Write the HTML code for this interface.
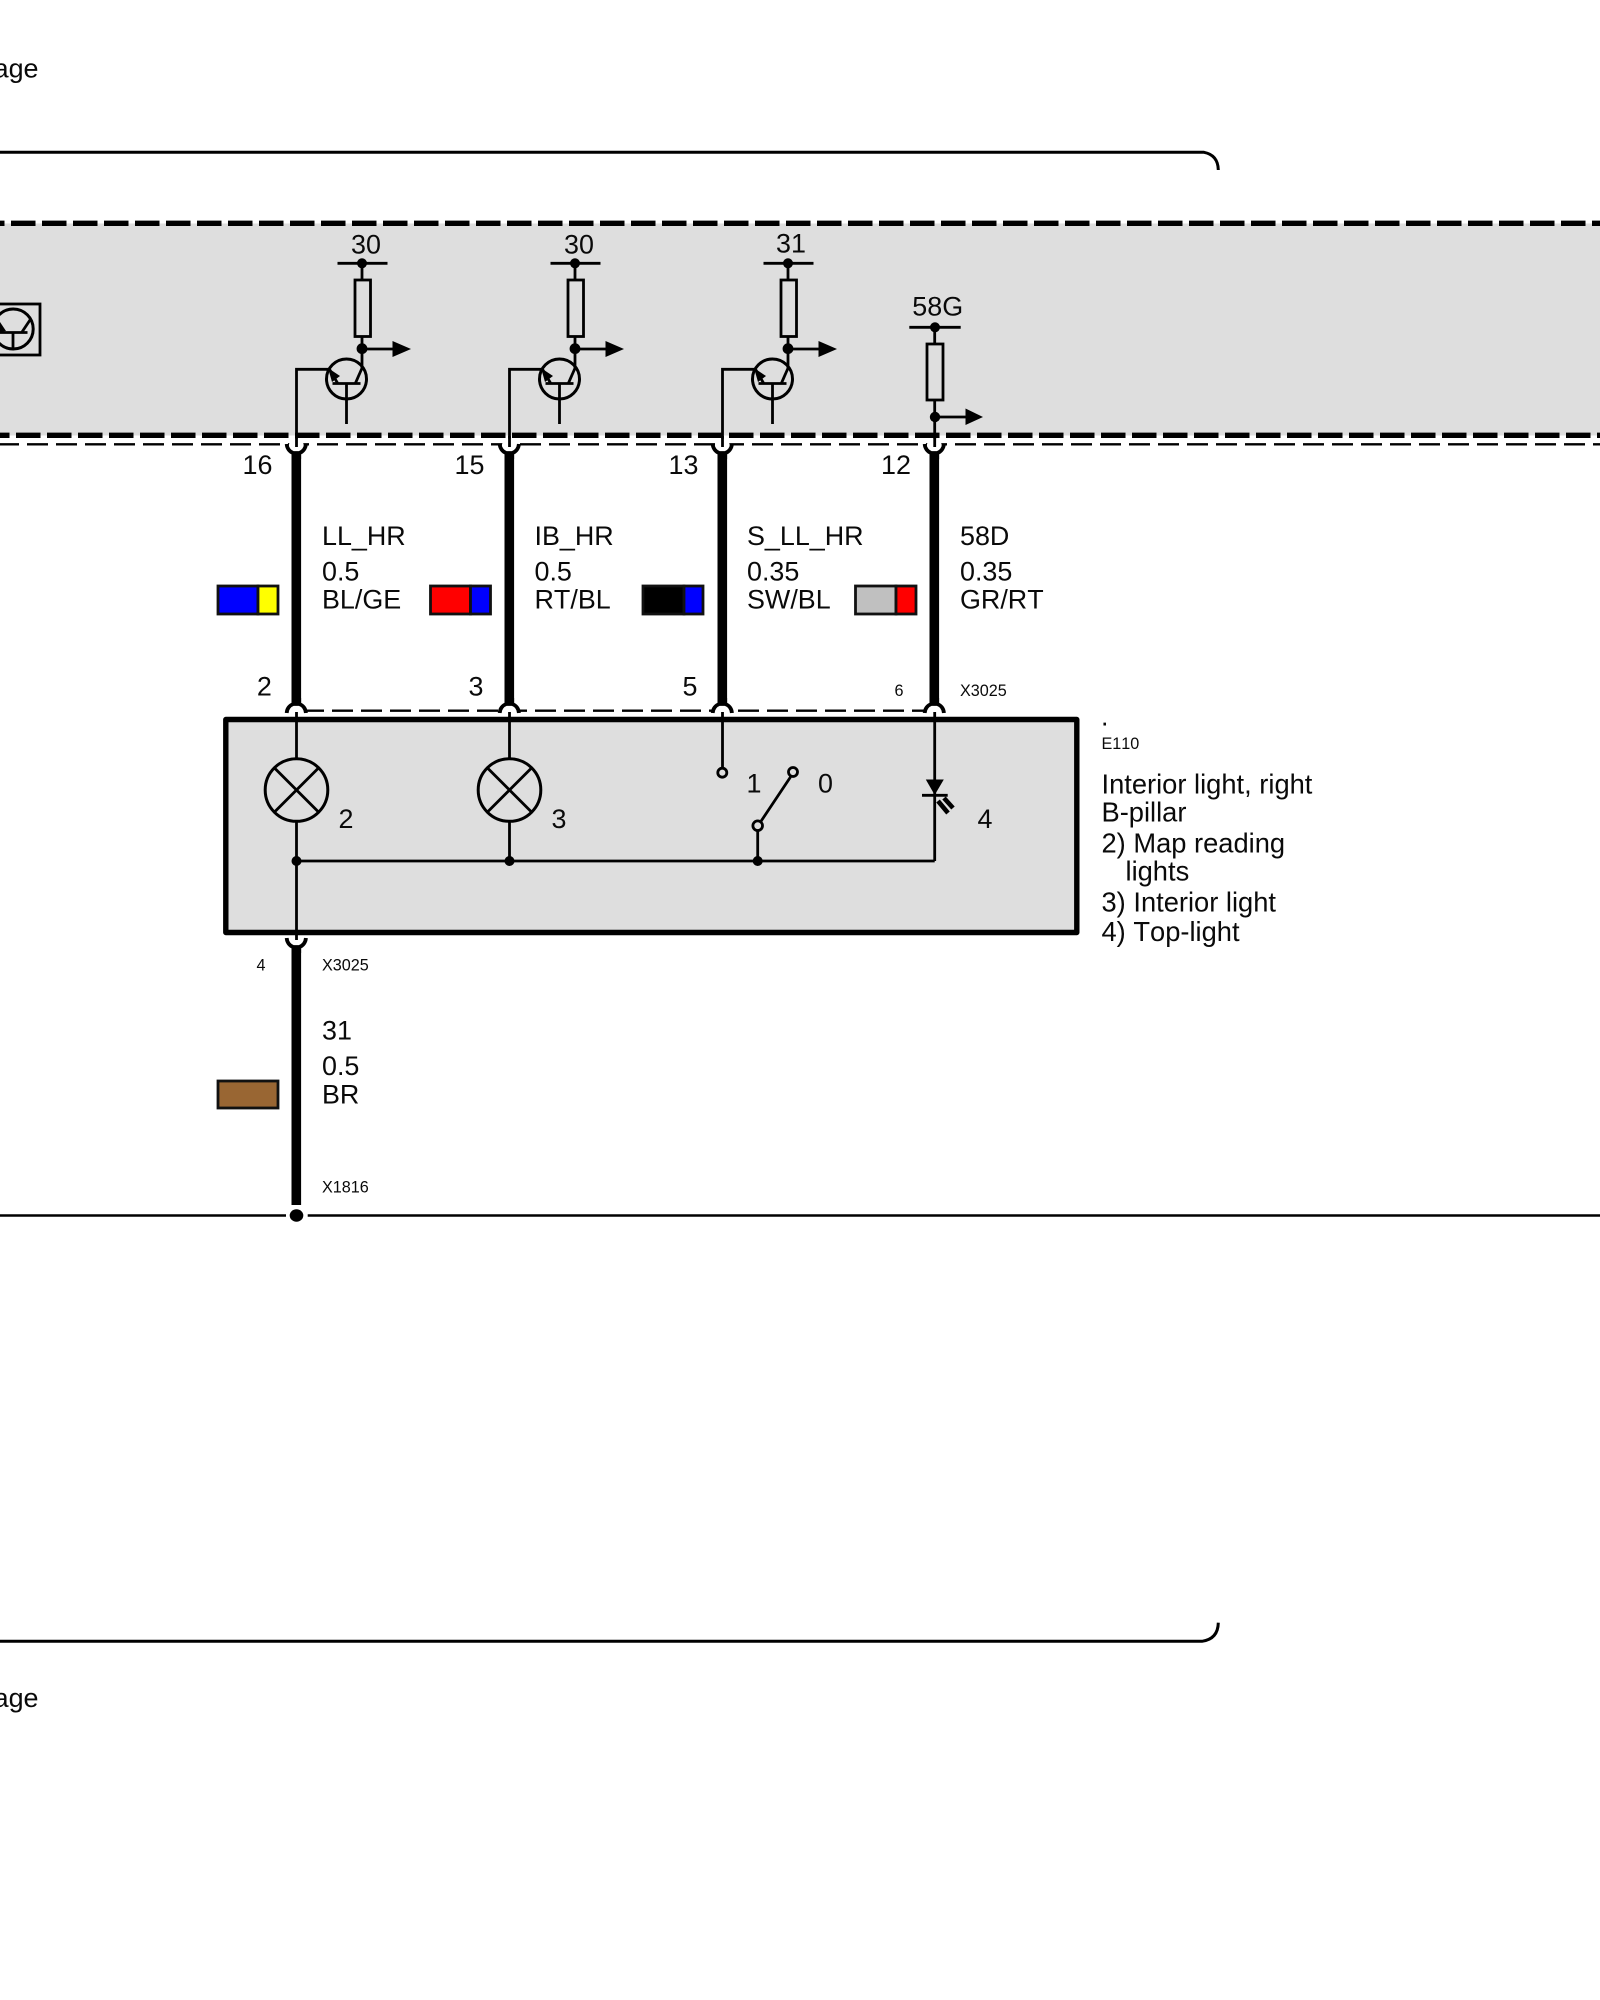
<!DOCTYPE html>
<html><head><meta charset="utf-8"><style>
html,body{margin:0;padding:0;background:#fff;width:1600px;height:2000px;overflow:hidden}
svg{display:block}
text{font-family:"Liberation Sans",sans-serif;font-size:26.9px;fill:#0a0a0a;font-kerning:none}
.s{font-size:16.2px}
.d{font-size:27.3px}
.m{text-anchor:middle}
.t{fill:none;stroke:#000;stroke-width:2.8}
.f{fill:#000;stroke:none}
.sw{stroke:#111;stroke-width:2.8}
</style></head><body>
<svg width="1600" height="2000" viewBox="0 0 1600 2000" xmlns="http://www.w3.org/2000/svg">
<defs>
<g id="tr">
 <line class="t" x1="337.5" y1="263.3" x2="387.5" y2="263.3"/>
 <circle class="f" cx="362" cy="263.3" r="5"/>
 <line class="t" x1="362" y1="263" x2="362" y2="280"/>
 <rect class="t" x="355" y="280" width="15.5" height="56.5"/>
 <line class="t" x1="362" y1="336" x2="362" y2="368"/>
 <circle class="f" cx="362" cy="348.7" r="5.4"/>
 <line class="t" x1="362" y1="349" x2="393" y2="349"/>
 <polygon class="f" points="392.5,341 392.5,357 411,349"/>
 <circle class="t" cx="346.5" cy="379" r="20" style="stroke-width:3"/>
 <line class="t" x1="362.5" y1="367" x2="355.5" y2="383"/>
 <line class="t" x1="332.5" y1="383.5" x2="360.5" y2="383.5"/>
 <line class="t" x1="346.5" y1="383.5" x2="346.5" y2="424"/>
 <polyline class="t" points="296.5,444 296.5,369.3 329.5,369.3 337.5,383"/>
 <polygon class="f" points="328,368 340,376 332,382"/>
</g>
<g id="ft">
 <circle cx="0" cy="2" r="7.5" fill="#fff"/>
 <path d="M-9.6,0 A9.6,10 0 0 0 -3,9 L3,9 A9.6,10 0 0 0 9.6,0" fill="none" stroke="#000" stroke-width="3.8"/>
 <rect class="f" x="-4.8" y="8" width="9.6" height="7"/>
</g>
<g id="ftb">
 <path d="M-9.6,0 A9.6,10 0 0 0 -3,9 L3,9 A9.6,10 0 0 0 9.6,0" fill="none" stroke="#000" stroke-width="3.8"/>
 <rect class="f" x="-4.8" y="8" width="9.6" height="7"/>
</g>
<g id="fb">
 <circle cx="0" cy="2" r="8" fill="#fff"/>
 <path d="M-9.6,2 A9.6,10 0 0 1 -3,-7 L3,-7 A9.6,10 0 0 1 9.6,2" fill="none" stroke="#000" stroke-width="3.8"/>
 <rect class="f" x="-4.8" y="-13" width="9.6" height="6"/>
</g>
<g id="lamp">
 <circle class="t" cx="0" cy="0" r="31.3" style="stroke-width:3"/>
 <line class="t" x1="-21.5" y1="-21.5" x2="21.5" y2="21.5"/>
 <line class="t" x1="21.5" y1="-21.5" x2="-21.5" y2="21.5"/>
</g>
</defs>

<text x="38.5" y="77.5" text-anchor="end">page</text>
<text x="38.5" y="1707" text-anchor="end">page</text>
<path d="M0,152.3 H1204 Q1218,155 1218.3,170" fill="none" stroke="#000" stroke-width="3"/>
<path d="M0,1641.3 H1202 Q1218,1639 1218.3,1622.7" fill="none" stroke="#000" stroke-width="3"/>

<rect x="0" y="223.5" width="1600" height="212" fill="#dedede"/>
<line x1="0" y1="223.3" x2="1600" y2="223.3" stroke="#000" stroke-width="5.4" stroke-dasharray="24.5 6.5" stroke-dashoffset="20"/>
<line x1="0" y1="435.3" x2="1600" y2="435.3" stroke="#000" stroke-width="5.4" stroke-dasharray="24.5 6.5" stroke-dashoffset="15"/>
<line x1="0" y1="444.3" x2="1600" y2="444.3" stroke="#000" stroke-width="2.4" stroke-dasharray="21 8" stroke-dashoffset="2"/>
<line x1="296" y1="710.7" x2="934" y2="710.7" stroke="#000" stroke-width="2.4" stroke-dasharray="21 8" stroke-dashoffset="-7"/>

<!-- left transistor box -->
<rect class="t" x="-10" y="304" width="50" height="51"/>
<circle class="t" cx="13.2" cy="329" r="20" style="stroke-width:3"/>
<line class="t" x1="-6" y1="332.5" x2="27.5" y2="332.5"/>
<line class="t" x1="13" y1="332.5" x2="13" y2="350"/>
<line class="t" x1="22" y1="332" x2="30" y2="320"/>
<polygon class="f" points="0,322 6,331 0,332"/>

<use href="#tr"/>
<use href="#tr" x="213"/>
<use href="#tr" x="426"/>

<text class="m" x="366" y="253.5">30</text>
<text class="m" x="579" y="253.5">30</text>
<text class="m" x="791" y="252.5">31</text>
<text class="m" x="937.7" y="315.7">58G</text>

<!-- 58G resistor -->
<line class="t" x1="909.3" y1="327.3" x2="960.7" y2="327.3"/>
<circle class="f" cx="935" cy="327.3" r="5"/>
<line class="t" x1="934.7" y1="327" x2="934.7" y2="344"/>
<rect class="t" x="927" y="344" width="16" height="56"/>
<line class="t" x1="934.7" y1="400" x2="934.7" y2="446"/>
<circle class="f" cx="935" cy="417" r="5.2"/>
<line class="t" x1="935" y1="417" x2="966" y2="417"/>
<polygon class="f" points="965.5,408.5 965.5,425 983,417"/>

<!-- thick wires -->
<rect class="f" x="291.5" y="452" width="9.6" height="252"/>
<rect class="f" x="504.5" y="452" width="9.6" height="252"/>
<rect class="f" x="717.5" y="452" width="9.6" height="252"/>
<rect class="f" x="929.5" y="452" width="9.6" height="252"/>
<use href="#ft" x="296.3" y="444"/><use href="#ft" x="509.3" y="444"/><use href="#ft" x="722.3" y="444"/><use href="#ft" x="934.3" y="444"/>
<use href="#fb" x="296.3" y="711"/><use href="#fb" x="509.3" y="711"/><use href="#fb" x="722.3" y="711"/><use href="#fb" x="934.3" y="711"/>
<line class="t" x1="296.5" y1="436" x2="296.5" y2="447"/>
<line class="t" x1="509.5" y1="436" x2="509.5" y2="447"/>
<line class="t" x1="722.5" y1="436" x2="722.5" y2="447"/>
<line class="t" x1="934.7" y1="436" x2="934.7" y2="447"/>

<!-- numbers -->
<text class="m" x="257.5" y="474">16</text>
<text class="m" x="469.5" y="474">15</text>
<text class="m" x="683.5" y="474">13</text>
<text class="m" x="896" y="474">12</text>

<!-- wire labels -->
<text x="322" y="545">LL_HR</text><text x="322" y="580.7">0.5</text><text x="322" y="608.3">BL/GE</text>
<text x="534.5" y="545">IB_HR</text><text x="534.5" y="580.7">0.5</text><text x="534.5" y="608.3">RT/BL</text>
<text x="747" y="545">S_LL_HR</text><text x="747" y="580.7">0.35</text><text x="747" y="608.3">SW/BL</text>
<text x="960" y="545">58D</text><text x="960" y="580.7">0.35</text><text x="960" y="608.3">GR/RT</text>

<!-- swatches -->
<rect class="sw" x="218" y="586" width="40" height="28" fill="#0000ff"/><rect class="sw" x="258" y="586" width="20" height="28" fill="#ffff00"/>
<rect class="sw" x="430.5" y="586" width="40" height="28" fill="#ff0000"/><rect class="sw" x="470.5" y="586" width="20" height="28" fill="#0000ff"/>
<rect class="sw" x="643" y="586" width="41" height="28" fill="#000"/><rect class="sw" x="684" y="586" width="19" height="28" fill="#0000ff"/>
<rect class="sw" x="855.5" y="586" width="40.5" height="28" fill="#c0c0c0"/><rect class="sw" x="896" y="586" width="20" height="28" fill="#ff0000"/>
<rect class="sw" x="218" y="1081" width="60" height="27" fill="#996633"/>

<!-- pin labels -->
<text class="m" x="264.3" y="695.7">2</text>
<text class="m" x="476" y="695.7">3</text>
<text class="m" x="690" y="695.7">5</text>
<text class="s m" x="899" y="696">6</text>
<text class="s" x="960" y="696">X3025</text>

<!-- module box -->
<rect x="225.8" y="719.5" width="851" height="213" fill="#dedede" stroke="#000" stroke-width="5.4" stroke-linejoin="round"/>
<line class="t" x1="296.5" y1="712" x2="296.5" y2="758.7"/>
<line class="t" x1="509.5" y1="712" x2="509.5" y2="758.7"/>
<line class="t" x1="722.5" y1="712" x2="722.5" y2="767"/>
<line class="t" x1="934.7" y1="712" x2="934.7" y2="861"/>
<use href="#lamp" x="296.5" y="790"/>
<use href="#lamp" x="509.5" y="790"/>
<line class="t" x1="296.5" y1="821" x2="296.5" y2="940"/>
<line class="t" x1="509.5" y1="821" x2="509.5" y2="861"/>
<line class="t" x1="296.5" y1="861" x2="934.7" y2="861"/>
<circle class="f" cx="296.5" cy="861" r="5"/>
<circle class="f" cx="509.5" cy="861" r="5"/>
<circle class="f" cx="757.7" cy="861" r="5"/>
<text class="m" x="346" y="828">2</text>
<text class="m" x="559" y="828">3</text>

<!-- switch -->
<circle class="t" cx="722.3" cy="772.7" r="4.5" style="fill:#dedede"/>
<line class="t" x1="760.5" y1="822" x2="790.5" y2="777"/>
<circle class="t" cx="793" cy="772" r="4.5" style="fill:#dedede"/>
<circle class="t" cx="757.7" cy="825.7" r="4.8" style="fill:#dedede"/>
<line class="t" x1="757.7" y1="830.5" x2="757.7" y2="861"/>
<text class="m" x="754" y="792.7">1</text>
<text class="m" x="825.5" y="792.7">0</text>

<!-- LED -->
<polygon class="f" points="925.8,779.5 943.8,779.5 934.7,795"/>
<line class="t" x1="922" y1="795.3" x2="947.7" y2="795.3"/>
<line x1="938" y1="801" x2="948" y2="813" stroke="#000" stroke-width="4.6"/>
<line x1="944" y1="798" x2="953" y2="808" stroke="#000" stroke-width="4.6"/>
<text class="m" x="985" y="828">4</text>

<!-- right description -->
<text x="1101" y="725.7">.</text>
<text class="s" x="1101.5" y="749">E110</text>
<text class="d" x="1101.5" y="793.3">Interior light, right</text>
<text class="d" x="1101.5" y="821.7">B-pillar</text>
<text class="d" x="1101.5" y="852.3">2) Map reading</text>
<text class="d" x="1125.5" y="880.5">lights</text>
<text class="d" x="1101.5" y="911.7">3) Interior light</text>
<text class="d" x="1101.5" y="941.2">4) Top-light</text>

<!-- lower wire -->
<use href="#ftb" x="296.3" y="938"/>
<rect class="f" x="291.5" y="946" width="9.6" height="259"/>
<text class="s m" x="261" y="970.7">4</text>
<text class="s" x="322" y="970.7">X3025</text>
<text x="322" y="1039.3">31</text>
<text x="322" y="1075">0.5</text>
<text x="322" y="1103.3">BR</text>
<text class="s" x="322" y="1192.3">X1816</text>
<line x1="0" y1="1215.5" x2="286" y2="1215.5" stroke="#000" stroke-width="2.6"/>
<line x1="307.7" y1="1215.5" x2="1600" y2="1215.5" stroke="#000" stroke-width="2.6"/>
<ellipse class="f" cx="296.5" cy="1215.5" rx="6.8" ry="6.2"/>
</svg>
</body></html>
